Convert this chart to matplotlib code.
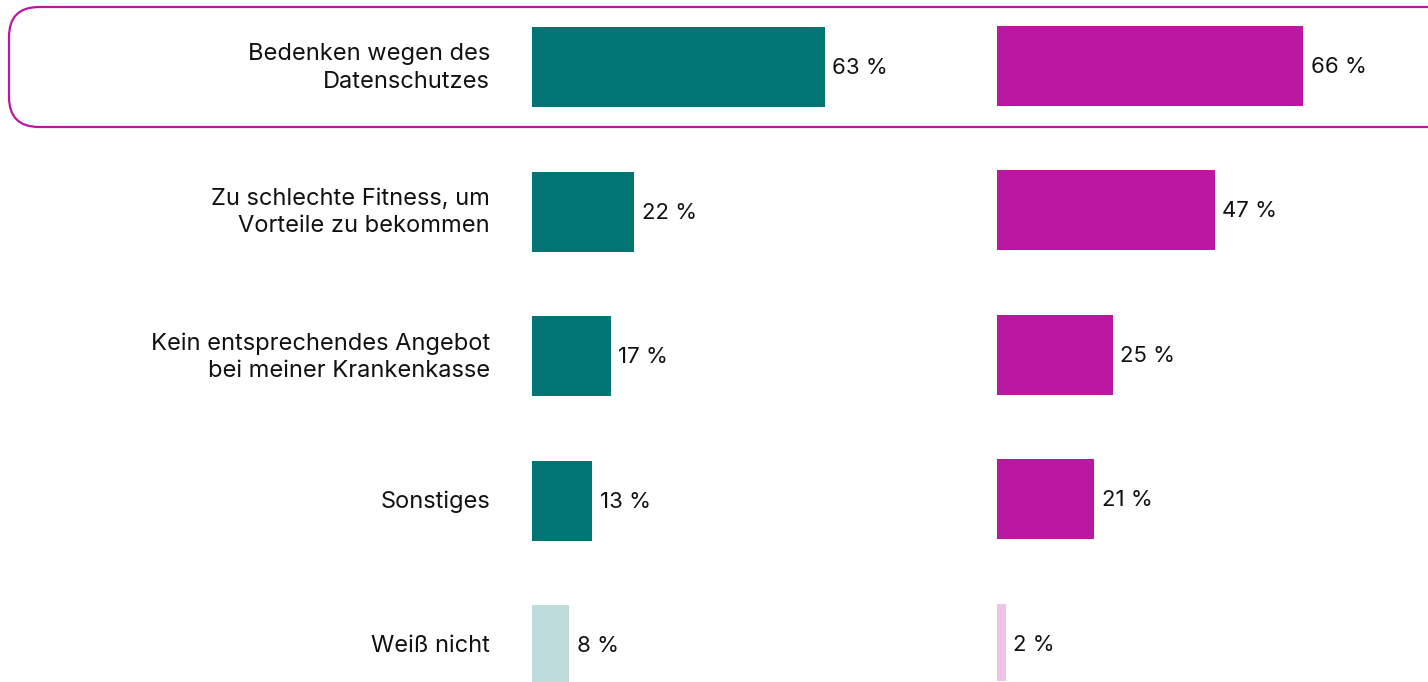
import matplotlib.pyplot as plt
from matplotlib.patches import FancyBboxPatch

plt.rcParams['font.family'] = ['Inter', 'DejaVu Sans']

categories = [
    "Bedenken wegen des\nDatenschutzes",
    "Zu schlechte Fitness, um\nVorteile zu bekommen",
    "Kein entsprechendes Angebot\nbei meiner Krankenkasse",
    "Sonstiges",
    "Weiß nicht",
]
values_left = [63, 22, 17, 13, 8]
values_right = [66, 47, 25, 21, 2]

teal = "#007574"
teal_light = "#BEDCDC"
magenta = "#BA17A3"
magenta_light = "#EBC4E6"
colors_left = [teal, teal, teal, teal, teal_light]
colors_right = [magenta, magenta, magenta, magenta, magenta_light]

W, H = 1428, 682
fig = plt.figure(figsize=(W / 100, H / 100), dpi=100)

# background axes in pixel units for labels and the highlight frame
bg = fig.add_axes([0, 0, 1, 1])
bg.set_xlim(0, W)
bg.set_ylim(H, 0)
bg.axis("off")

row_gap = 144.5
first_row = 67
px_per_pct = 4.65
bar_h = 80 / row_gap

frame = FancyBboxPatch((9, 7), 1450, 120, boxstyle="round,pad=0,rounding_size=30",
                       fill=False, edgecolor=magenta, linewidth=1.6, clip_on=False)
bg.add_patch(frame)

for i, label in enumerate(categories):
    bg.text(490, first_row + i * row_gap + 1, label, ha="right", va="center",
            fontsize=17, linespacing=1.3, color="#111111")


def bar_panel(x0_px, shift_px, values, colors):
    ax = fig.add_axes([x0_px / W, shift_px / H, 100 * px_per_pct / W, 1])
    top = -first_row / row_gap
    bottom = (H - first_row) / row_gap
    ax.set_ylim(bottom, top)
    ax.set_xlim(0, 100)
    ax.barh(range(len(values)), values, height=bar_h, color=colors)
    for i, v in enumerate(values):
        ax.text(v + 1.6, i + 0.01, f"{v} %", va="center", ha="left", fontsize=16,
                color="#111111")
    ax.axis("off")
    return ax


bar_panel(532, 0, values_left, colors_left)
bar_panel(996.5, 1.5, values_right, colors_right)

fig.savefig("out.png", dpi=100)
